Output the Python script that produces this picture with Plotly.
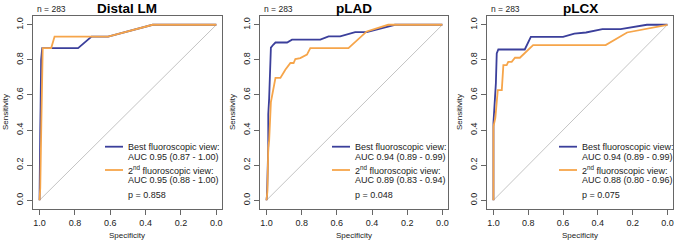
import plotly.graph_objects as go

# ---------------- data ----------------
panel_titles = ["Distal LM", "pLAD", "pLCX"]
n_label = "n = 283"
best_auc_text = ["AUC 0.95 (0.87 - 1.00)", "AUC 0.94 (0.89 - 0.99)", "AUC 0.94 (0.89 - 0.99)"]
second_auc_text = ["AUC 0.95 (0.88 - 1.00)", "AUC 0.89 (0.83 - 0.94)", "AUC 0.88 (0.80 - 0.96)"]
p_values = ["p = 0.858", "p = 0.048", "p = 0.075"]

lm_best_spec = [1.0, 1.0, 0.996, 0.994, 0.991, 0.985, 0.782, 0.706, 0.612, 0.36, 0.0]
lm_best_sens = [0.0, 0.067, 0.40, 0.533, 0.80, 0.867, 0.867, 0.933, 0.933, 1.0, 1.0]
lm_second_spec = [1.0, 0.996, 0.99, 0.987, 0.982, 0.934, 0.915, 0.612, 0.36, 0.0]
lm_second_sens = [0.0, 0.07, 0.43, 0.58, 0.867, 0.867, 0.933, 0.933, 1.0, 1.0]

lad_best_spec = [1.0, 0.997, 0.99, 0.99, 0.985, 0.98, 0.975, 0.962, 0.949, 0.883, 0.855,
                 0.694, 0.647, 0.581, 0.496, 0.43, 0.27, 0.0]
lad_best_sens = [0.0, 0.03, 0.31, 0.49, 0.58, 0.70, 0.87, 0.886, 0.899, 0.899, 0.915,
                 0.915, 0.934, 0.934, 0.958, 0.958, 1.0, 1.0]
lad_second_spec = [1.0, 0.995, 0.99, 0.985, 0.975, 0.967, 0.949, 0.921, 0.893, 0.864, 0.846,
                   0.836, 0.808, 0.77, 0.751, 0.534, 0.43, 0.308, 0.0]
lad_second_sens = [0.0, 0.05, 0.30, 0.34, 0.56, 0.60, 0.697, 0.697, 0.744, 0.782, 0.782,
                   0.805, 0.81, 0.83, 0.867, 0.867, 0.962, 1.0, 1.0]

lcx_best_spec = [1.0, 1.0, 0.986, 0.981, 0.972, 0.82, 0.785, 0.60, 0.535, 0.468, 0.374,
                 0.269, 0.118, 0.0]
lcx_best_sens = [0.0, 0.44, 0.666, 0.837, 0.859, 0.859, 0.931, 0.931, 0.95, 0.956, 0.975,
                 0.975, 1.0, 1.0]
lcx_second_spec = [1.0, 1.0, 0.989, 0.981, 0.975, 0.952, 0.943, 0.924, 0.915, 0.895, 0.876,
                   0.848, 0.82, 0.772, 0.355, 0.232, 0.0]
lcx_second_sens = [0.0, 0.42, 0.47, 0.55, 0.628, 0.628, 0.77, 0.77, 0.789, 0.789, 0.812,
                   0.812, 0.837, 0.884, 0.884, 0.956, 1.0]

tick_vals = [0.0, 0.2, 0.4, 0.6, 0.8, 1.0]
tick_text = ["0.0", "0.2", "0.4", "0.6", "0.8", "1.0"]

chance_spec = [1.0, 0.0]
chance_sens = [0.0, 1.0]

# ---------------- style ----------------
W, H = 677, 242
BLUE = "#3b3f9b"
ORANGE = "#f6a54a"
GREY_DIAG = "#c4c4c4"
AX_COL = "#666666"
TXT = "#222222"
FONT = "Liberation Sans, Arial, sans-serif"

# plot box pixel extents (left, right)
boxes_px = [(33, 222), (260, 448), (487, 673)]
box_top_px, box_bot_px = 16, 209

curves = [
    (lm_best_spec, lm_best_sens, lm_second_spec, lm_second_sens),
    (lad_best_spec, lad_best_sens, lad_second_spec, lad_second_sens),
    (lcx_best_spec, lcx_best_sens, lcx_second_spec, lcx_second_sens),
]

fig = go.Figure()
annotations = []
shapes = []

def py(v):
    return 1 - v / H

for i, (bl, br) in enumerate(boxes_px):
    k = "" if i == 0 else str(i + 1)
    xa, ya = "x" + k, "y" + k
    bs, bn, ss, sn = curves[i]
    fig.add_trace(go.Scatter(x=chance_spec, y=chance_sens, mode="lines",
                             line=dict(color=GREY_DIAG, width=1), xaxis=xa, yaxis=ya,
                             showlegend=False, hoverinfo="skip"))
    fig.add_trace(go.Scatter(x=bs, y=bn, mode="lines", line=dict(color=BLUE, width=1.8),
                             xaxis=xa, yaxis=ya, showlegend=False, name="Best fluoroscopic view"))
    fig.add_trace(go.Scatter(x=ss, y=sn, mode="lines", line=dict(color=ORANGE, width=1.8),
                             xaxis=xa, yaxis=ya, showlegend=False, name="2nd fluoroscopic view"))

    axcommon = dict(showgrid=False, zeroline=False, showline=True, mirror=True,
                    linecolor=AX_COL, linewidth=1, ticks="outside", ticklen=5,
                    tickcolor=AX_COL, tickwidth=1, tickvals=tick_vals, ticktext=tick_text,
                    tickfont=dict(family=FONT, size=9, color=TXT))
    fig.layout["xaxis" + k] = dict(axcommon, domain=[bl / W, br / W],
                                   range=[1.037, -0.032], anchor=ya)
    fig.layout["yaxis" + k] = dict(axcommon, domain=[py(box_bot_px), py(box_top_px)],
                                   range=[-0.05, 1.05], anchor=xa, tickangle=-90)

    cx = (bl + br) / 2 / W
    annotations.append(dict(text="<b>%s</b>" % panel_titles[i], x=cx, y=py(8.5), xref="paper",
                            yref="paper", showarrow=False, xanchor="center", yanchor="middle",
                            font=dict(family=FONT, size=13.5, color="#000000")))
    annotations.append(dict(text=n_label, x=(bl + 2) / W, y=py(9), xref="paper", yref="paper",
                            showarrow=False, xanchor="left", yanchor="middle",
                            font=dict(family=FONT, size=8.5, color=TXT)))
    annotations.append(dict(text="Specificity", x=cx, y=py(235.5), xref="paper", yref="paper",
                            showarrow=False, xanchor="center", yanchor="middle",
                            font=dict(family=FONT, size=8, color=TXT)))
    annotations.append(dict(text="Sensitivity", x=(bl - 28) / W, y=py(112), xref="paper",
                            yref="paper", showarrow=False, xanchor="center", yanchor="middle",
                            textangle=-90, font=dict(family=FONT, size=8, color=TXT)))

    # legend block
    tx = (bl + 93) / W
    lines = [("Best fluoroscopic view:", 146.7), (best_auc_text[i], 156.7),
             ("2<sup>nd</sup> fluoroscopic view:", 170), (second_auc_text[i], 180),
             (p_values[i], 195)]
    for t, yy in lines:
        annotations.append(dict(text=t, x=tx, y=py(yy), xref="paper", yref="paper",
                                showarrow=False, xanchor="left", yanchor="middle",
                                font=dict(family=FONT, size=9, color=TXT)))
    for col, yy in [(BLUE, 146.7), (ORANGE, 170)]:
        shapes.append(dict(type="line", xref="paper", yref="paper",
                           x0=(bl + 72) / W, x1=(bl + 90) / W, y0=py(yy), y1=py(yy),
                           line=dict(color=col, width=1.8)))

fig.update_layout(width=W, height=H, margin=dict(l=0, r=0, t=0, b=0),
                  paper_bgcolor="white", plot_bgcolor="white",
                  annotations=annotations, shapes=shapes, showlegend=False)

fig.write_html("out.html", config={"displayModeBar": False},
               post_script="document.body.style.margin='0';document.body.style.padding='0';")
